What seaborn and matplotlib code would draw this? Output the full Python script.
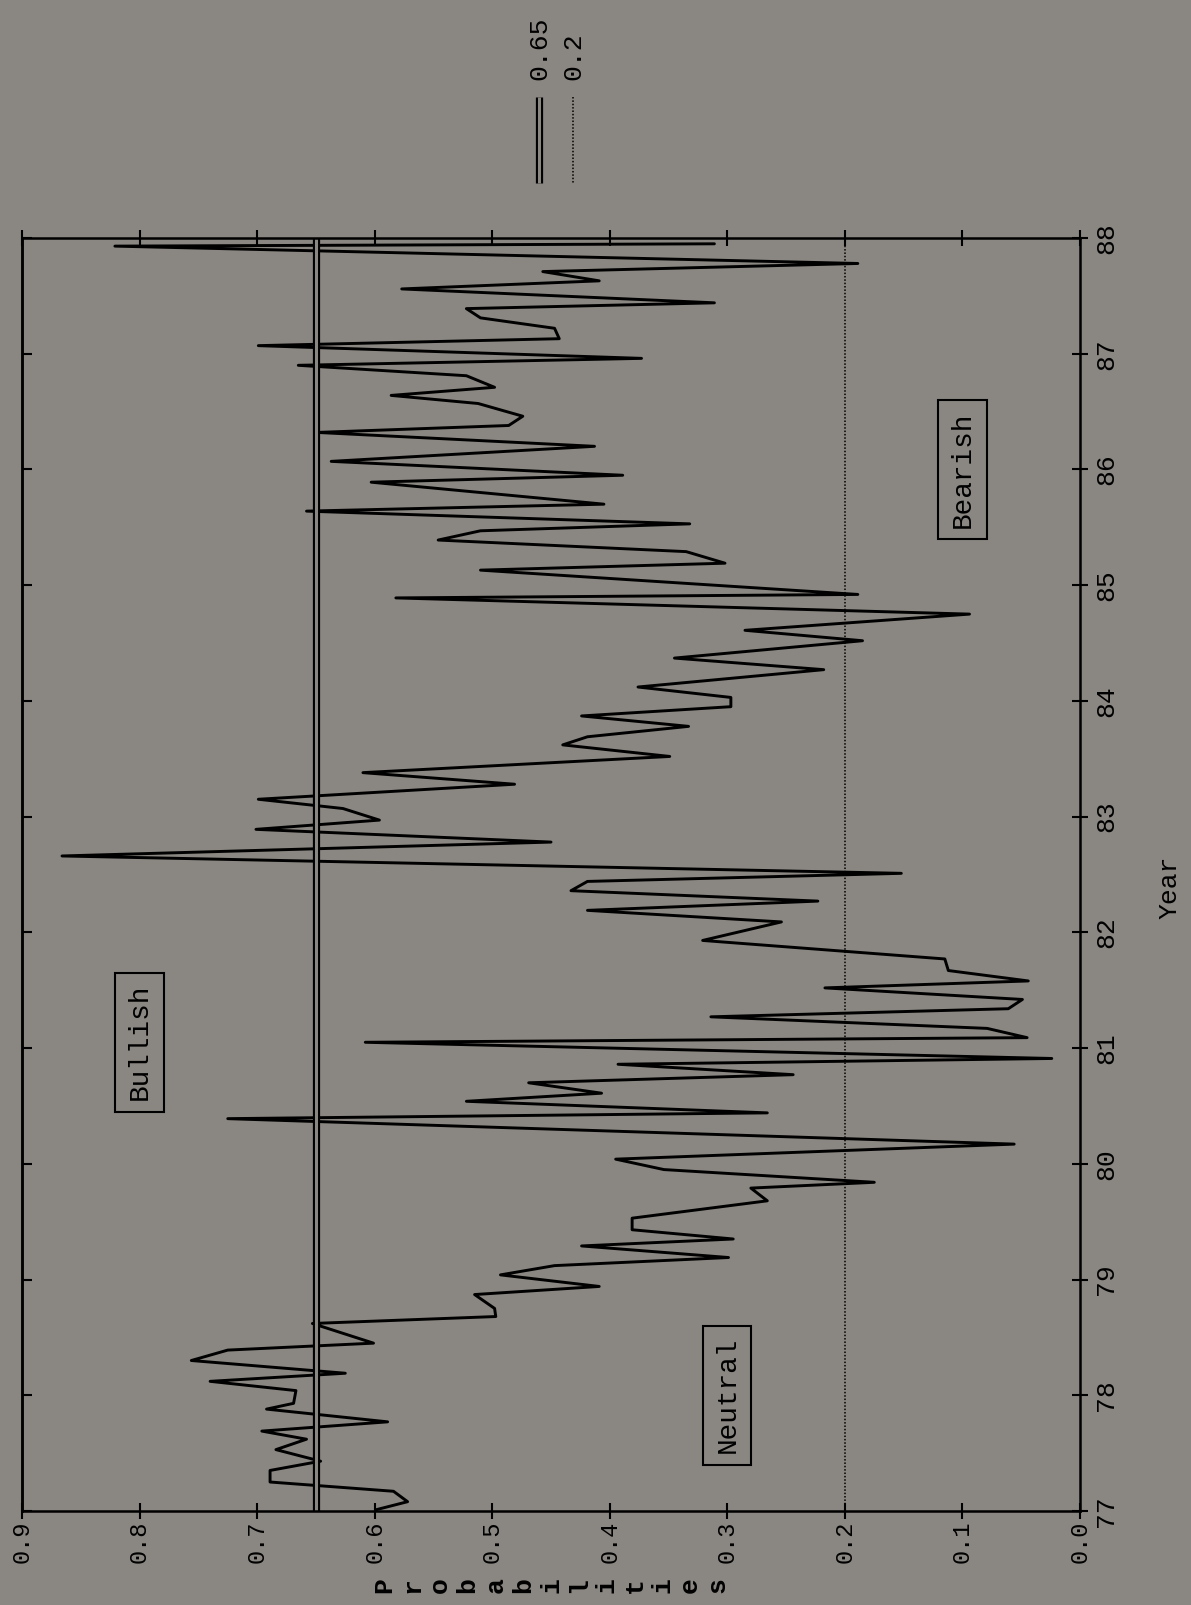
import matplotlib
matplotlib.use('Agg')
import matplotlib.pyplot as plt
import matplotlib.patheffects as pe
from matplotlib.lines import Line2D
import pandas as pd
import seaborn as sns

years = [77.01, 77.08, 77.17, 77.25, 77.35, 77.43, 77.53, 77.62, 77.69, 77.77,
         77.88, 77.93, 78.04, 78.12, 78.19, 78.30, 78.39, 78.45, 78.62, 78.68,
         78.75, 78.87, 78.94, 79.04, 79.12, 79.19, 79.29, 79.35, 79.43, 79.53,
         79.68, 79.79, 79.84, 79.95, 80.04, 80.17, 80.39, 80.44, 80.54, 80.61,
         80.70, 80.77, 80.86, 80.91, 81.05, 81.09, 81.17, 81.27, 81.34, 81.42,
         81.52, 81.58, 81.67, 81.77, 81.93, 82.09, 82.19, 82.27, 82.36, 82.44,
         82.51, 82.66, 82.78, 82.89, 82.97, 83.07, 83.15, 83.28, 83.38, 83.52,
         83.62, 83.69, 83.78, 83.87, 83.95, 84.03, 84.12, 84.27, 84.37, 84.52,
         84.61, 84.75, 84.89, 84.92, 85.13, 85.19, 85.29, 85.39, 85.47, 85.53,
         85.64, 85.70, 85.89, 85.95, 86.07, 86.20, 86.32, 86.38, 86.46, 86.57,
         86.64, 86.71, 86.81, 86.90, 86.96, 87.07, 87.13, 87.22, 87.31, 87.39,
         87.44, 87.56, 87.63, 87.71, 87.78, 87.93, 87.95]
probs = [0.599, 0.572, 0.584, 0.689, 0.689, 0.646, 0.684, 0.658, 0.696, 0.589,
         0.692, 0.669, 0.667, 0.740, 0.625, 0.756, 0.725, 0.601, 0.653, 0.497,
         0.498, 0.515, 0.409, 0.493, 0.447, 0.299, 0.424, 0.295, 0.381, 0.381,
         0.266, 0.280, 0.175, 0.354, 0.395, 0.056, 0.725, 0.266, 0.522, 0.407,
         0.469, 0.244, 0.393, 0.024, 0.608, 0.045, 0.079, 0.314, 0.061, 0.049,
         0.217, 0.044, 0.112, 0.115, 0.321, 0.254, 0.419, 0.223, 0.433, 0.419,
         0.152, 0.866, 0.450, 0.701, 0.596, 0.627, 0.699, 0.481, 0.610, 0.349,
         0.440, 0.419, 0.333, 0.424, 0.297, 0.297, 0.376, 0.218, 0.345, 0.185,
         0.285, 0.094, 0.582, 0.189, 0.510, 0.302, 0.335, 0.546, 0.510, 0.332,
         0.658, 0.405, 0.603, 0.389, 0.637, 0.413, 0.649, 0.486, 0.474, 0.512,
         0.586, 0.498, 0.522, 0.665, 0.373, 0.699, 0.443, 0.447, 0.510, 0.522,
         0.311, 0.577, 0.409, 0.457, 0.189, 0.821, 0.311]

bull_cut = 0.65
bear_cut = 0.2
prob_ticks = [0.0, 0.1, 0.2, 0.3, 0.4, 0.5, 0.6, 0.7, 0.8, 0.9]
prob_labels = ['0.0', '0.1', '0.2', '0.3', '0.4', '0.5', '0.6', '0.7', '0.8', '0.9']
year_ticks = [77, 78, 79, 80, 81, 82, 83, 84, 85, 86, 87, 88]
year_labels = ['77', '78', '79', '80', '81', '82', '83', '84', '85', '86', '87', '88']
zone_names = ['Bullish', 'Neutral', 'Bearish']
zone_probs = [0.80, 0.30, 0.10]
zone_years = [81.05, 78.0, 86.0]

bg = '#8a8681'
sns.set_theme(style='ticks', rc={'axes.facecolor': bg, 'figure.facecolor': bg,
                                 'axes.edgecolor': 'black', 'axes.linewidth': 1.8,
                                 'xtick.color': 'black', 'ytick.color': 'black',
                                 'text.color': 'black', 'axes.labelcolor': 'black'})
plt.rcParams['font.family'] = ['Liberation Mono', 'DejaVu Sans Mono']

df = pd.DataFrame({'year': years, 'prob': probs})

fig = plt.figure(figsize=(11.91, 16.05), dpi=100)
ax = fig.add_axes([0.0185, 0.0586, 0.8883, 0.7931])

# the page is scanned sideways: probability runs right-to-left, years bottom-to-top
sns.lineplot(data=df, x='prob', y='year', sort=False, estimator=None,
             color='black', lw=2.1, ax=ax)

double = [pe.Stroke(linewidth=5.2, foreground='black', capstyle='butt'), pe.Normal()]
ax.axvline(bull_cut, color=bg, lw=2.2, solid_capstyle='butt', path_effects=double)
ax.axvline(bear_cut, color='black', lw=1.1, ls=(0, (1, 1.2)))

ax.set_xlim(0.9, 0.0)
ax.set_ylim(77, 88)
ax.set_xticks(prob_ticks)
ax.set_xticklabels(prob_labels, rotation=90)
ax.set_yticks(year_ticks)
ax.set_yticklabels(year_labels, rotation=90, va='center')
ax.yaxis.tick_right()
ax.tick_params(axis='both', direction='inout', length=12, width=1.5,
               top=True, bottom=True, right=True, left=False)
ax.tick_params(axis='x', labelsize=17, pad=1)
ax.tick_params(axis='y', labelsize=19, pad=4)

# inward ticks on the left frame
sec = ax.secondary_yaxis('left')
sec.set_yticks(year_ticks)
sec.set_yticklabels([])
sec.tick_params(direction='in', length=7, width=1.5)

# stacked-letter axis label, as on the old plotter output
ax.set_xlabel('\n'.join('Probabilities'), rotation=90, fontsize=19,
              linespacing=1.2, fontweight='bold')
ax.xaxis.set_label_coords(0.5, -0.058)
ax.xaxis.label.set_va('center')

ax.yaxis.set_label_position('right')
ax.set_ylabel('Year', rotation=90, fontsize=19)
ax.yaxis.set_label_coords(1.085, 0.49)
ax.yaxis.label.set_va('center')
ax.yaxis.label.set_ha('center')

for name, p, yr in zip(zone_names, zone_probs, zone_years):
    ax.text(p, yr, name, rotation=90, ha='center', va='center', fontsize=20,
            bbox=dict(boxstyle='square,pad=0.4', fc='none', ec='black', lw=1.5))

# legend drawn sideways above the frame
fig.add_artist(Line2D([539 / 1191] * 2, [1 - 97 / 1605, 1 - 183 / 1605],
                      color=bg, lw=2.2, solid_capstyle='butt', path_effects=double))
fig.add_artist(Line2D([573 / 1191] * 2, [1 - 97 / 1605, 1 - 183 / 1605],
                      color='black', lw=1.1, ls=(0, (1, 1.2))))
fig.text(539 / 1191, 1 - 80 / 1605, str(bull_cut), rotation=90, ha='center',
         va='bottom', fontsize=19)
fig.text(573 / 1191, 1 - 80 / 1605, str(bear_cut), rotation=90, ha='center',
         va='bottom', fontsize=19)

fig.savefig('out.png', dpi=100, facecolor=bg)
